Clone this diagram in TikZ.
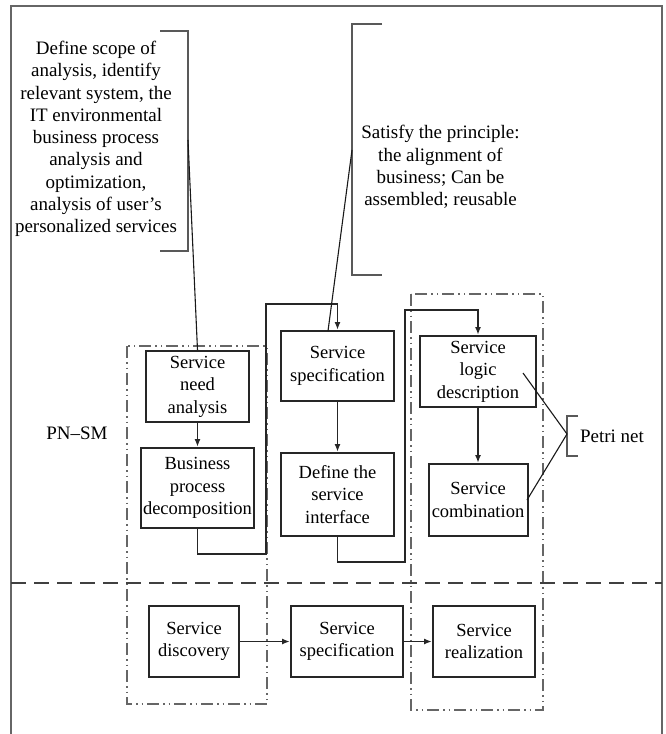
\documentclass[tikz,border=0pt]{standalone}
\usepackage{fontspec}
\setmainfont{Liberation Serif}
\usetikzlibrary{arrows.meta}
\begin{document}
\begin{tikzpicture}[x=1pt,y=-1pt,
  box/.style={draw=black!85,line width=2pt,inner sep=0pt,align=center,font=\fontsize{18.5}{22.5}\selectfont},
  txt/.style={align=center,inner sep=0pt,font=\fontsize{19}{22.3}\selectfont},
  conn/.style={black!85,line width=1.7pt},
  arr/.style={conn,-{Latex[length=8pt,width=6pt]}},
  brk/.style={black!65,line width=2.4pt},
  thinln/.style={black!90,line width=1.1pt},
  grp/.style={black!60,line width=2.2pt,dash pattern=on 12pt off 4pt on 1.5pt off 4pt on 1.5pt off 4pt},
  sepline/.style={black!75,line width=2.6pt,dash pattern=on 15pt off 8pt},
  frameln/.style={black!60,line width=2pt}]
\useasboundingbox (0,0) rectangle (665,734);

% frame
\draw[frameln] (11,734) -- (11,6) -- (662,6) -- (662,734);

% groups and separator
\draw[grp] (127,346) rectangle (267,704);
\draw[grp] (411,294) rectangle (543,710);
\draw[sepline] (11,583) -- (662,583);

% boxes
\node[box,minimum width=103,minimum height=71] (need) at (197.5,386.5) {Service\\need\\analysis};
\node[box,minimum width=113,minimum height=80] (biz) at (197.5,488) {Business\\process\\decomposition};
\node[box,minimum width=113,minimum height=70] (spec1) at (337.5,366) {Service\\specification};
\node[box,minimum width=113,minimum height=83] (iface) at (337.5,494.5) {Define the\\service\\interface};
\node[box,minimum width=116,minimum height=71] (logic) at (478,371.5) {Service\\logic\\description};
\node[box,minimum width=99,minimum height=72] (comb) at (478,500) {Service\\combination};
\node[box,minimum width=90,minimum height=71] (disc) at (194,641.5) {Service\\discovery};
\node[box,minimum width=112,minimum height=71] (spec2) at (347,641.5) {Service\\specification};
\node[box,minimum width=102,minimum height=71] (real) at (484,641.5) {Service\\realization};

% texts
\node[txt] (scope) at (96,139) {Define scope of\\analysis, identify\\relevant system, the\\IT environmental\\business process\\analysis and\\optimization,\\analysis of user’s\\personalized services};
\node[txt] (principle) at (440.5,167) {Satisfy the principle:\\the alignment of\\business; Can be\\assembled; reusable};
\node[txt] (pnsm) at (77,433) {PN–SM};
\node[txt] (petri) at (612,436) {Petri net};

% connectors
\coordinate (c1) at (266,554);
\coordinate (c2) at (337.5,304);
\coordinate (c3) at (405,562);
\coordinate (c4) at (478,310);
\draw[arr] (need) -- (biz);
\draw[arr] (biz.south) |- (c1) |- (c2) -- (spec1.north);
\draw[arr] (spec1) -- (iface);
\draw[arr] (iface.south) |- (c3) |- (c4) -- (logic.north);
\draw[arr] (logic) -- (comb);
\draw[arr] (disc) -- (spec2);
\draw[arr] (spec2) -- (real);

% brackets and leader lines
\coordinate (b1a) at (188,140);
\draw[brk] (160,31) -- (188,31) -- (188,251) -- (160,251);
\draw[thinln] (b1a) -- (need.north);
\coordinate (b2a) at (352,150);
\coordinate (b2b) at (328,331);
\draw[brk] (382,24) -- (352,24) -- (352,275) -- (382,275);
\draw[thinln] (b2a) -- (b2b);
\coordinate (pa) at (567,434);
\coordinate (pl) at (523,373);
\coordinate (pc) at (527,500);
\draw[brk] (578,416) -- (567,416) -- (567,456) -- (578,456);
\draw[thinln] (pl) -- (pa);
\draw[thinln] (pc) -- (pa);
\end{tikzpicture}
\end{document}
